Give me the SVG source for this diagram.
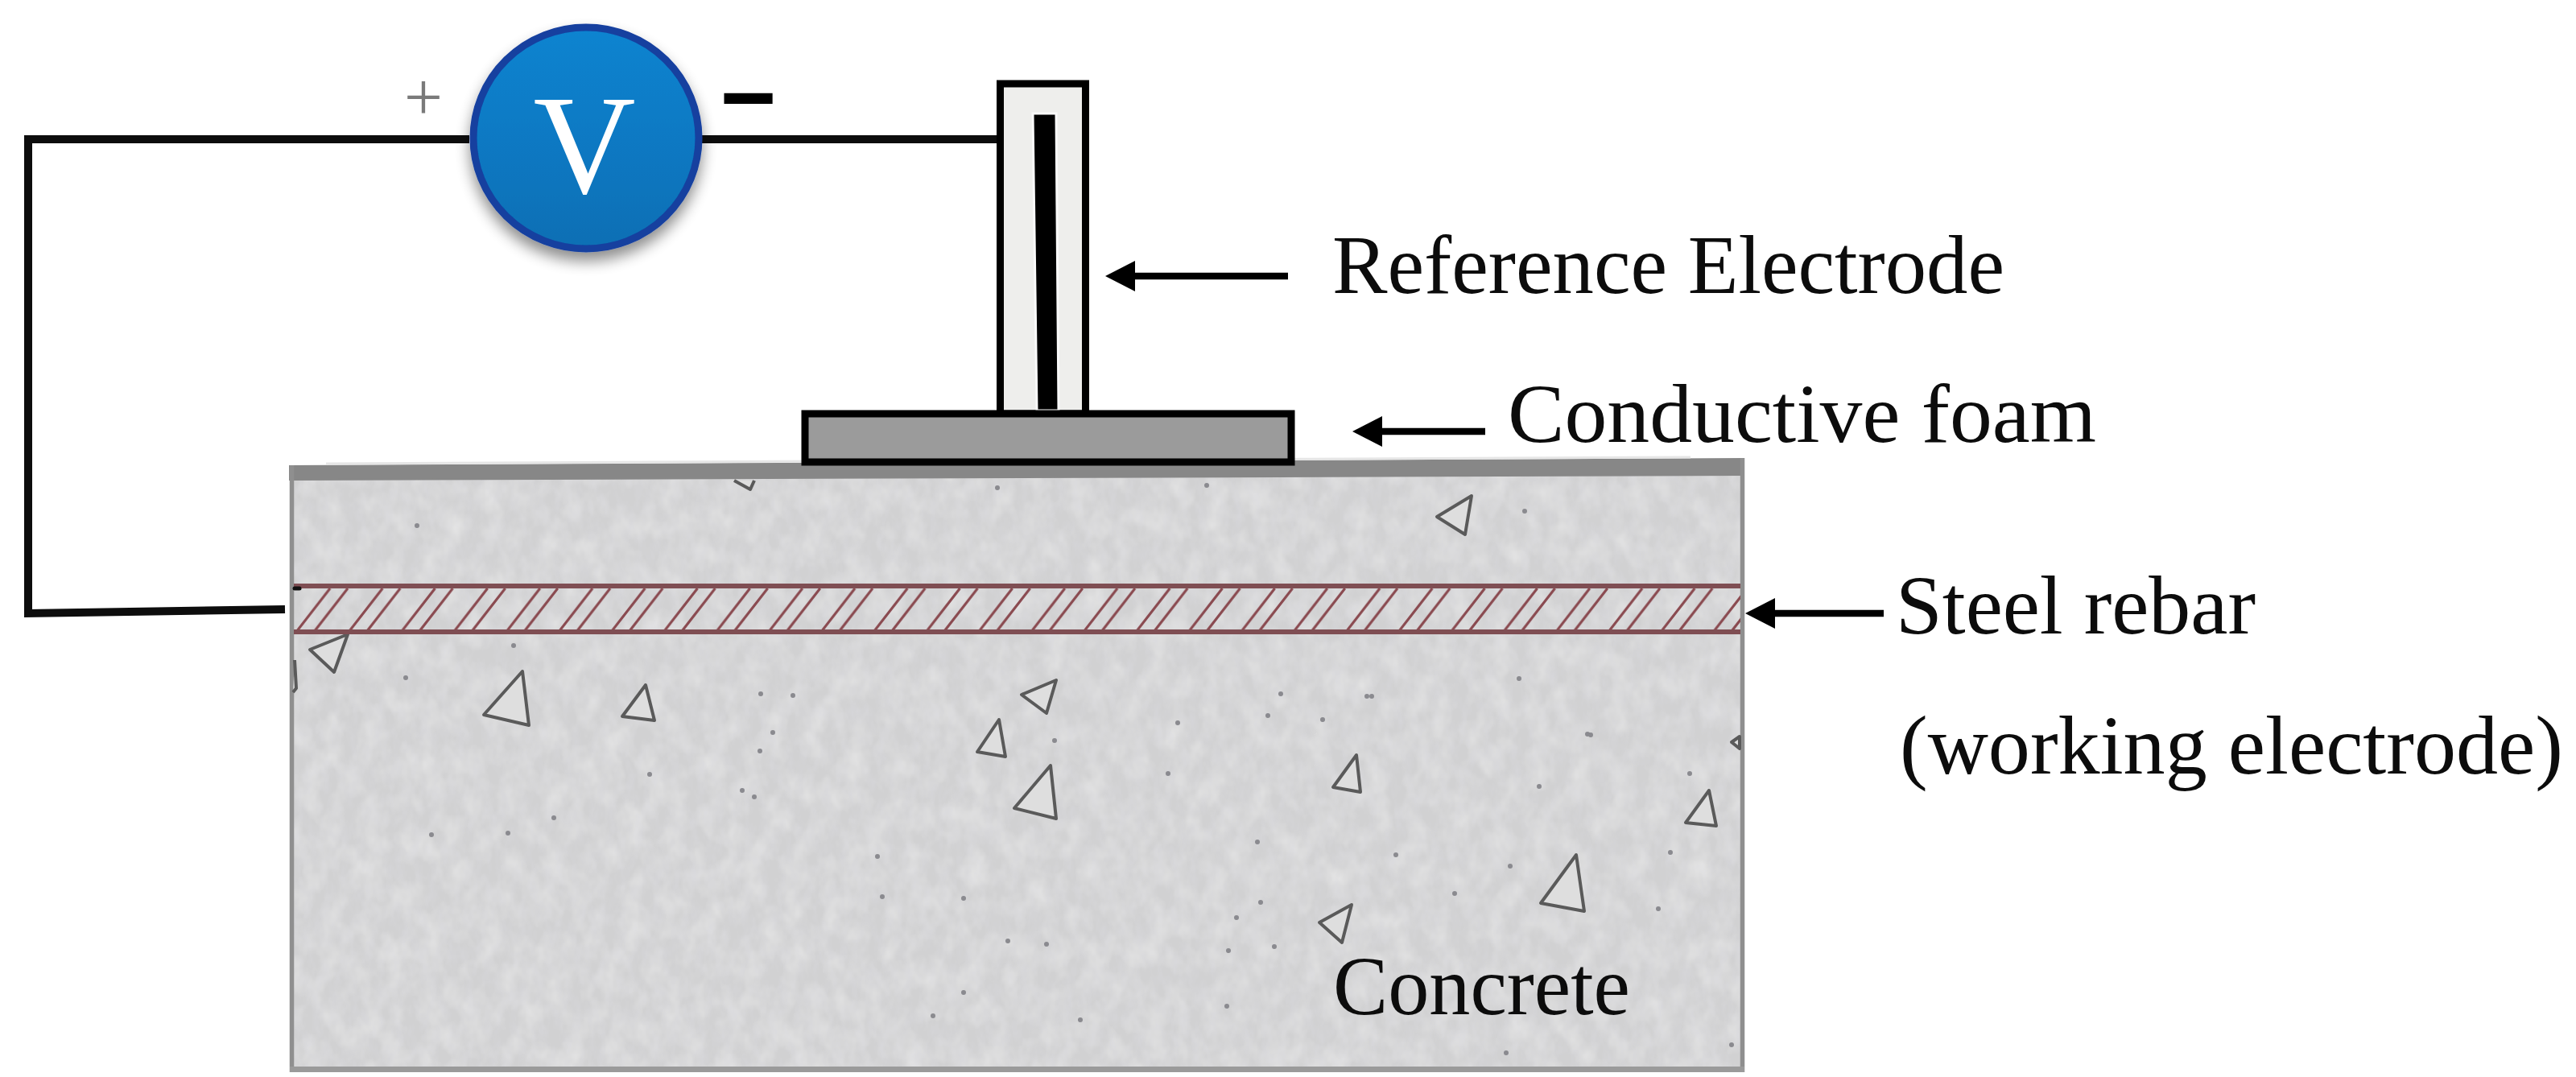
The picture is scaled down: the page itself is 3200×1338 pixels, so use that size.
<svg xmlns="http://www.w3.org/2000/svg" width="3200" height="1338" viewBox="0 0 3200 1338">
<style>
.lbl{font-family:"Liberation Serif","Times New Roman",serif;font-size:103px;fill:#0c0c0c}
.wire{fill:none;stroke:#0d0d0d;stroke-width:10}
.ptr{fill:none;stroke:#000;stroke-width:8.5;marker-end:url(#head)}
.agg{fill:#dedede;stroke:#5a5a5a;stroke-width:4;stroke-linejoin:round}
.hatch{fill:url(#hatch)}
.rail{stroke:#7f4e53;stroke-width:6;fill:none}
.spk{fill:none;stroke:#8a8a8f;stroke-width:6;stroke-linecap:round}
</style>
<defs>
<marker id="head" markerUnits="userSpaceOnUse" markerWidth="38" markerHeight="40" refX="0" refY="19" orient="auto"><path d="M0 0L37 19L0 38z" fill="#000"/></marker>
<pattern id="hatch" patternUnits="userSpaceOnUse" x="368" y="731" width="65.2" height="54"><path d="M0 54L42 0M22 54L64 0" stroke="#8a4a50" stroke-width="3.2" fill="none"/></pattern>
<linearGradient id="vm" x1="0" y1="0" x2="0" y2="1"><stop offset="0" stop-color="#0b84d0"/><stop offset=".55" stop-color="#0778c2"/><stop offset="1" stop-color="#086fb4"/></linearGradient>
<filter id="shadow" x="-20%" y="-20%" width="140%" height="145%"><feGaussianBlur in="SourceAlpha" stdDeviation="9"/><feOffset dy="11"/><feComponentTransfer><feFuncA type="linear" slope=".45"/></feComponentTransfer><feMerge><feMergeNode/><feMergeNode in="SourceGraphic"/></feMerge></filter>
<filter id="grain" x="0" y="0" width="100%" height="100%"><feTurbulence type="fractalNoise" baseFrequency=".09 .04" numOctaves="4" seed="7"/><feColorMatrix type="matrix" values="0 0 0 0 .7 0 0 0 0 .7 0 0 0 0 .74 .9 0 0 0 -.36"/></filter>
<filter id="light" x="0" y="0" width="100%" height="100%"><feTurbulence type="fractalNoise" baseFrequency=".04 .03" numOctaves="3" seed="21"/><feColorMatrix type="matrix" values="0 0 0 0 .9 0 0 0 0 .9 0 0 0 0 .9 .9 0 0 0 -.32"/></filter>
</defs>
<rect width="3200" height="1338" fill="#fff"/>
<g id="concrete">
<rect x="360" y="590" width="1804" height="742" fill="#d1d1d2"/>
<rect x="360" y="590" width="1804" height="742" filter="url(#light)"/>
<rect x="360" y="590" width="1804" height="742" filter="url(#grain)"/>
<path d="M359 578L2167 569V591L359 597z" fill="#878787"/>
<path d="M405 576L2100 568" stroke="#e6e6e6" stroke-width="3" fill="none"/>
<path d="M362.500 578V1332M2164.500 569V1332" stroke="#8f8f8f" stroke-width="5.500" fill="none"/>
<path d="M360 1328.500H2167" stroke="#9a9a9a" stroke-width="7" fill="none"/>
<g id="aggregates">
<path class="agg" d="M1312 845L1269 863L1300 886z"/>
<path class="agg" d="M1241 894L1214 934L1249 940z"/>
<path class="agg" d="M1305 951L1260 1004L1312 1017z"/>
<path class="agg" d="M1685 938L1656 978L1690 984z"/>
<path class="agg" d="M2123 982L2094 1022L2132 1026z"/>
<path class="agg" d="M1958 1062L1914 1122L1968 1132z"/>
<path class="agg" d="M1679 1124L1639 1146L1667 1171z"/>
<path class="agg" d="M2161 915L2151 922L2161 930z"/>
<path class="agg" d="M432 788L385 807L415 835z"/>
<path class="agg" d="M649 834L601 888L657 901z"/>
<path class="agg" d="M802 851L773 890L813 895z"/>
<path class="agg" d="M1828 616L1785 642L1820 664z"/>
<path class="agg" d="M912 597L932 608L937 597"/>
<path class="agg" d="M366 820L368 855L364 860"/>
</g>
<path class="spk" d="M1310 920h0M1463 898h0M1575 889h0M1643 894h0M1591 862h0M1698 865h0M1451 961h0M1972 912h0M2099 961h0M1912 977h0M1562 1046h0M2075 1059h0M1734 1062h0M1876 1076h0M1807 1110h0M2060 1129h0M1566 1121h0M1536 1140h0M1096 1114h0M1197 1116h0M1252 1169h0M1300 1173h0M1583 1176h0M1526 1181h0M1197 1233h0M1524 1250h0M1159 1262h0M1342 1267h0M1871 1308h0M2151 1298h0M1090 1064h0M518 653h0M638 802h0M504 842h0M945 862h0M985 864h0M960 910h0M944 933h0M807 962h0M922 982h0M937 990h0M688 1016h0M631 1035h0M536 1037h0M1894 635h0M1704 865h0M1976 913h0M1887 843h0M1239 606h0M1499 603h0"/>
</g>
<g id="rebar">
<rect class="hatch" x="367" y="731" width="1795" height="54"/>
<path class="rail" d="M365 728H2162M365 785H2162"/>
<path d="M366 731h6" stroke="#111" stroke-width="5" stroke-linecap="round"/>
</g>
<g id="connectors">
<path class="wire" d="M583 173H35V762L354 757"/>
<path class="wire" d="M872 173H1238"/>
<path class="ptr" d="M1600 343H1410"/>
<path class="ptr" d="M1845 536H1717"/>
<path class="ptr" d="M2340 762H2205"/>
</g>
<g id="reference-electrode">
<rect x="1242.500" y="104" width="106" height="410" fill="#eeeeec" stroke="#000" stroke-width="9"/>
<path d="M1283 141H1312L1315 510H1288z" fill="#000" stroke="#fafafa" stroke-width="3"/>
</g>
<g id="conductive-foam">
<rect x="1000" y="514" width="604" height="60" fill="#9b9b9b" stroke="#000" stroke-width="9"/>
</g>
<g id="voltmeter">
<ellipse cx="728" cy="171.500" rx="140" ry="137.500" fill="url(#vm)" stroke="#17409f" stroke-width="9" filter="url(#shadow)"/>
<text x="726" y="239" text-anchor="middle" font-family="Liberation Serif,serif" font-size="176" fill="#fff">V</text>
</g>
<text x="526" y="149" text-anchor="middle" font-family="Liberation Serif,serif" font-size="85" fill="#7a7a7a">+</text>
<text x="929.500" y="162" text-anchor="middle" font-family="Liberation Sans,sans-serif" font-size="120" font-weight="700" fill="#000">−</text>
<g id="labels">
<text class="lbl" x="1655" y="364" textLength="835" lengthAdjust="spacingAndGlyphs">Reference Electrode</text>
<text class="lbl" x="1873" y="549" textLength="731" lengthAdjust="spacingAndGlyphs">Conductive foam</text>
<text class="lbl" x="2355" y="787" textLength="447" lengthAdjust="spacingAndGlyphs">Steel rebar</text>
<text class="lbl" x="2360" y="961" textLength="824" lengthAdjust="spacingAndGlyphs">(working electrode)</text>
<text class="lbl" x="1656" y="1260" textLength="369" lengthAdjust="spacingAndGlyphs">Concrete</text>
</g>
</svg>
